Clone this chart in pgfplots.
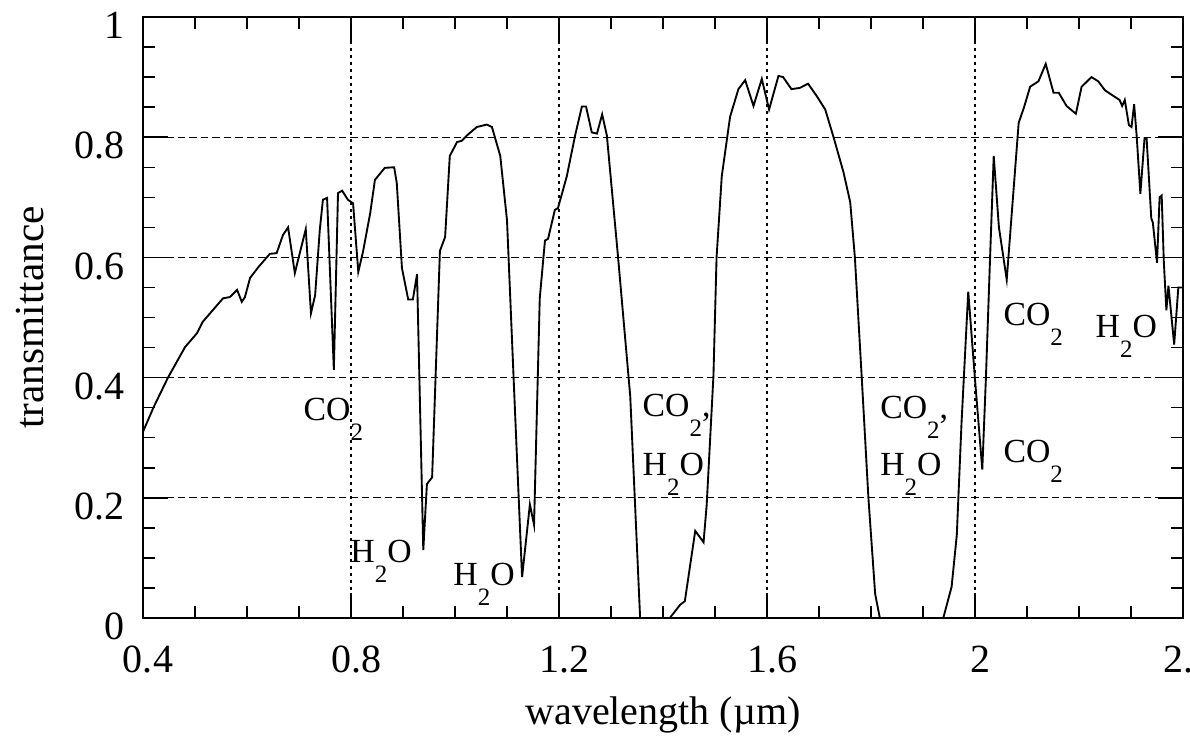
\documentclass[border=0pt]{standalone}
\usepackage{fontspec}
\setmainfont{Liberation Serif}
\usepackage{pgfplots}
\pgfplotsset{compat=1.18}
\newcommand{\sub}[1]{\raisebox{-8pt}{\fontsize{10}{10}\selectfont #1}}
\begin{document}
\begin{tikzpicture}
\useasboundingbox (-57.2pt,-51.2pt) rectangle (418.8pt,247.2pt);
\begin{axis}[
  scale only axis, width=416pt, height=240.4pt,
  xmin=0.4, xmax=2.4, ymin=0, ymax=1,
  xtick={0.4,0.8,1.2,1.6,2,2.4},
  ytick={0,0.2,0.4,0.6,0.8,1},
  minor x tick num=3, minor y tick num=3,
  tick align=inside,
  major tick length=10pt, minor tick length=4.8pt,
  every tick/.style={black, line width=0.6pt},
  axis line style={black, line width=0.8pt},
  grid=major,
  major x grid style={black, line width=0.5pt, dash pattern=on 1.4pt off 1.4pt},
  major y grid style={black, line width=0.5pt, dash pattern=on 3pt off 1.6pt},
  /pgf/number format/assume math mode=true,
  tick label style={font=\fontsize{16}{16}\selectfont},
  yticklabel style={xshift=-4pt, yshift=-3.5pt},
  xticklabel style={yshift=-7.5pt, xshift=2pt},
  xlabel={wavelength (\textmu m)},
  ylabel={transmittance},
  xlabel style={font=\fontsize{16}{16}\selectfont, at={(axis description cs:0.5,-0.161)}, anchor=center},
  ylabel style={font=\fontsize{16.5}{16.5}\selectfont, at={(axis description cs:-0.109,0.5)}, anchor=center},
]
\addplot[black, line width=0.75pt] table {
0.400 0.310
0.420 0.350
0.448 0.400
0.481 0.451
0.504 0.474
0.515 0.493
0.554 0.532
0.567 0.534
0.581 0.546
0.590 0.526
0.596 0.534
0.606 0.566
0.622 0.584
0.644 0.606
0.657 0.607
0.669 0.637
0.679 0.650
0.692 0.574
0.713 0.647
0.723 0.507
0.731 0.537
0.740 0.646
0.746 0.696
0.754 0.699
0.767 0.413
0.775 0.707
0.783 0.711
0.794 0.696
0.804 0.690
0.814 0.576
0.823 0.609
0.837 0.674
0.846 0.729
0.865 0.749
0.883 0.750
0.888 0.724
0.898 0.582
0.910 0.530
0.919 0.530
0.927 0.572
0.939 0.113
0.946 0.223
0.956 0.234
0.971 0.611
0.981 0.634
0.990 0.769
1.004 0.792
1.013 0.794
1.023 0.803
1.042 0.817
1.061 0.821
1.071 0.817
1.087 0.769
1.100 0.662
1.115 0.352
1.129 0.068
1.144 0.189
1.152 0.155
1.163 0.532
1.173 0.628
1.179 0.631
1.192 0.679
1.198 0.682
1.215 0.735
1.231 0.803
1.244 0.851
1.252 0.851
1.263 0.808
1.273 0.806
1.283 0.838
1.292 0.803
1.313 0.606
1.337 0.369
1.356 0.000
1.413 0.000
1.433 0.022
1.442 0.028
1.462 0.145
1.478 0.126
1.484 0.188
1.497 0.403
1.503 0.600
1.513 0.735
1.529 0.834
1.545 0.880
1.558 0.895
1.574 0.852
1.590 0.897
1.604 0.846
1.622 0.902
1.631 0.900
1.647 0.880
1.663 0.882
1.679 0.889
1.696 0.868
1.712 0.846
1.728 0.800
1.747 0.742
1.760 0.692
1.769 0.600
1.782 0.403
1.795 0.200
1.808 0.040
1.817 0.000
1.939 0.000
1.955 0.052
1.965 0.138
1.974 0.323
1.987 0.543
2.000 0.397
2.014 0.247
2.021 0.400
2.029 0.600
2.036 0.769
2.046 0.650
2.061 0.563
2.071 0.677
2.084 0.824
2.094 0.849
2.106 0.884
2.122 0.893
2.136 0.922
2.151 0.874
2.161 0.874
2.176 0.852
2.194 0.839
2.205 0.884
2.224 0.900
2.237 0.893
2.250 0.878
2.262 0.871
2.278 0.862
2.283 0.852
2.288 0.862
2.296 0.820
2.301 0.817
2.306 0.855
2.311 0.801
2.318 0.706
2.326 0.798
2.330 0.798
2.339 0.665
2.342 0.658
2.350 0.591
2.355 0.700
2.359 0.703
2.363 0.595
2.368 0.512
2.372 0.553
2.383 0.455
2.391 0.550
2.400 0.550
};
\begin{scope}[every node/.style={anchor=base west, inner sep=0pt, font=\fontsize{13.5}{13.5}\selectfont}]
\node at (axis cs:0.708,0.328) {CO\sub{2}};
\node at (axis cs:0.798,0.092) {H\sub{2}O};
\node at (axis cs:0.996,0.054) {H\sub{2}O};
\node at (axis cs:1.360,0.335) {CO\sub{2},};
\node at (axis cs:1.360,0.237) {H\sub{2}O};
\node at (axis cs:1.817,0.332) {CO\sub{2},};
\node at (axis cs:1.817,0.237) {H\sub{2}O};
\node at (axis cs:2.054,0.486) {CO\sub{2}};
\node at (axis cs:2.231,0.467) {H\sub{2}O};
\node at (axis cs:2.054,0.258) {CO\sub{2}};
\end{scope}
\end{axis}
\end{tikzpicture}
\end{document}
